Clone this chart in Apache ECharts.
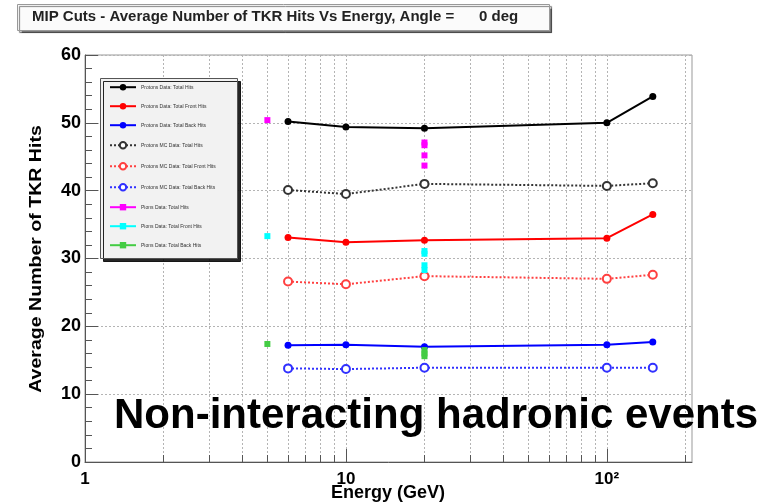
<!DOCTYPE html>
<html><head><meta charset="utf-8">
<script src="https://cdn.jsdelivr.net/npm/echarts@6/dist/echarts.min.js"></script>
<style>html,body{margin:0;padding:0;background:#fff}#c{width:781px;height:502px}</style>
</head><body><div id="c"></div>
<script>
// ---- data ----
const energyProtons = [6, 10, 20, 100, 150];
const protonsTotal = [50.2, 49.4, 49.2, 50.0, 53.9];
const protonsFront = [33.1, 32.4, 32.7, 33.0, 36.5];
const protonsBack  = [17.2, 17.3, 17.0, 17.3, 17.7];
const mcTotal = [40.1, 39.5, 41.0, 40.7, 41.1];
const mcFront = [26.6, 26.2, 27.4, 27.0, 27.6];
const mcBack  = [13.8, 13.7, 13.9, 13.9, 13.9];
const energyPionsTotal = [5, 20, 20, 20, 20];
const pionsTotal = [50.4, 47.1, 46.7, 45.2, 43.7];
const energyPionsFront = [5, 20, 20, 20, 20];
const pionsFront = [33.3, 31.1, 30.7, 29.0, 28.3];
const energyPionsBack = [5, 20, 20, 20];
const pionsBack = [17.4, 16.5, 16.0, 15.6];
const seriesNames = [
  'Protons Data: Total Hits', 'Protons Data: Total Front Hits', 'Protons Data: Total Back Hits',
  'Protons MC Data: Total Hits', 'Protons MC Data: Total Front Hits', 'Protons MC Data: Total Back Hits',
  'Pions Data: Total Hits', 'Pions Data: Total Front Hits', 'Pions Data: Total Back Hits'
];
const xMajorTicks = [1, 10, 100];
const xMinorTicks = [2,3,4,5,6,7,8,9,20,30,40,50,60,70,80,90,200];
const titleText = 'MIP Cuts - Average Number of TKR Hits Vs Energy, Angle =';
const titleAngle = '0 deg';
const yAxisTitle = 'Average Number of TKR Hits';
const xAxisTitle = 'Energy (GeV)';
const annotation = 'Non-interacting hadronic events';

const zip = (xs, ys) => xs.map((x, i) => [x, ys[i]]);
const FONT = 'Liberation Sans, Arial, sans-serif';

function lineSeries(name, xs, ys, color, dotted, hollow) {
  return {
    name, type: 'line', xAxisIndex: 0, data: zip(xs, ys),
    symbol: hollow ? 'emptyCircle' : 'circle', symbolSize: hollow ? 8 : 7,
    lineStyle: { color, width: 2, type: dotted ? 'dotted' : 'solid' },
    itemStyle: { color, borderWidth: hollow ? 1 : 0 },
    animation: false, z: 3
  };
}
function pionSeries(name, xs, ys, color) {
  return {
    name, type: 'line', xAxisIndex: 0, data: zip(xs, ys),
    symbol: 'rect', symbolSize: 6,
    lineStyle: { color, width: 2, opacity: 0 },
    itemStyle: { color },
    animation: false, z: 4
  };
}

const series = [
  lineSeries(seriesNames[0], energyProtons, protonsTotal, '#000000', false, false),
  lineSeries(seriesNames[1], energyProtons, protonsFront, '#ff0000', false, false),
  lineSeries(seriesNames[2], energyProtons, protonsBack, '#0000ff', false, false),
  lineSeries(seriesNames[3], energyProtons, mcTotal, '#333333', true, true),
  lineSeries(seriesNames[4], energyProtons, mcFront, '#ff4040', true, true),
  lineSeries(seriesNames[5], energyProtons, mcBack, '#3030ff', true, true),
  pionSeries(seriesNames[6], energyPionsTotal, pionsTotal, '#ff00ff'),
  pionSeries(seriesNames[7], energyPionsFront, pionsFront, '#00ffff'),
  pionSeries(seriesNames[8], energyPionsBack, pionsBack, '#44cc44')
];

const gridDotted = { color: '#b4b4b4', type: [2, 2], width: 1 };

const chart = echarts.init(document.getElementById('c'), null, { renderer: 'canvas' });
chart.setOption({
  backgroundColor: '#fff',
  animation: false,
  grid: { left: 85, right: 89, top: 55, bottom: 40, show: true, borderColor: '#999', borderWidth: 1 },
  xAxis: [{
    type: 'log', logBase: 10, min: 1, max: 212, position: 'bottom',
    axisLine: { show: true, lineStyle: { color: '#555', width: 1 } },
    axisTick: { show: true, inside: true, length: 13, interval: 0, customValues: xMajorTicks, lineStyle: { color: '#555' } },
    axisLabel: {
      customValues: xMajorTicks, interval: 0, margin: 9, color: '#000', fontFamily: FONT, fontWeight: 'bold', fontSize: 17,
      formatter: v => (Math.abs(v - 100) < 1e-6 ? '10²' : String(Math.round(v)))
    },
    splitLine: { show: true, interval: 0, lineStyle: gridDotted }
  }, {
    type: 'log', logBase: 10, min: 1, max: 212, position: 'bottom', offset: 0,
    axisLine: { show: false },
    axisTick: { show: true, inside: true, length: 7, interval: 0, customValues: xMinorTicks, lineStyle: { color: '#555' } },
    axisLabel: { show: false, interval: 0, customValues: xMinorTicks },
    splitLine: { show: true, interval: 0, lineStyle: gridDotted }
  }],
  yAxis: {
    type: 'value', min: 0, max: 60, interval: 10,
    axisLine: { show: true, lineStyle: { color: '#555', width: 1 } },
    axisTick: { show: true, inside: true, length: 13, lineStyle: { color: '#555' } },
    minorTick: { show: true, splitNumber: 5, length: 7, lineStyle: { color: '#555' } },
    axisLabel: { margin: 4, color: '#000', fontFamily: FONT, fontWeight: 'bold', fontSize: 18 },
    splitLine: { show: true, lineStyle: gridDotted }
  },
  legend: {
    orient: 'vertical', left: 104, top: 79,
    itemWidth: 26, itemHeight: 8, itemGap: 12.6,
    textStyle: { fontSize: 5, color: '#333', fontFamily: FONT },
    data: seriesNames.map((n, i) => i >= 6 ? { name: n, lineStyle: { opacity: 1, width: 2 } } : { name: n }),
    z: 10
  },
  graphic: [
    { type: 'rect', left: 100, top: 78, z: 5,
      shape: { width: 137, height: 180 },
      style: { fill: '#f2f2f2', stroke: '#555', lineWidth: 1, shadowColor: 'rgba(0,0,0,0.85)', shadowOffsetX: 3, shadowOffsetY: 3, shadowBlur: 0 } },
    { type: 'rect', left: 17, top: 4, z: 5,
      shape: { width: 532, height: 26 },
      style: { fill: '#fbfbfb', stroke: '#999', lineWidth: 1, shadowColor: 'rgba(0,0,0,0.5)', shadowOffsetX: 2, shadowOffsetY: 2, shadowBlur: 1 } },
    { type: 'text', left: 32, top: 9, z: 6,
      style: { text: titleText, font: 'bold 15px ' + FONT, fill: '#222' } },
    { type: 'text', left: 479, top: 9, z: 6,
      style: { text: titleAngle, font: 'bold 15px ' + FONT, fill: '#222' } },
    { type: 'text', x: 388, y: 484, z: 6,
      style: { text: xAxisTitle, font: 'bold 18px ' + FONT, fill: '#000', align: 'center', verticalAlign: 'top' } },
    { type: 'text', x: 36, y: 259, rotation: Math.PI / 2, scaleX: 1.15, z: 6,
      style: { text: yAxisTitle, font: 'bold 17px ' + FONT, fill: '#000', align: 'center', verticalAlign: 'middle' } },
    { type: 'text', left: 114, top: 395, z: 6,
      style: { text: annotation, font: 'bold 42px ' + FONT, fill: '#000' } }
  ],
  series
});
</script></body></html>
